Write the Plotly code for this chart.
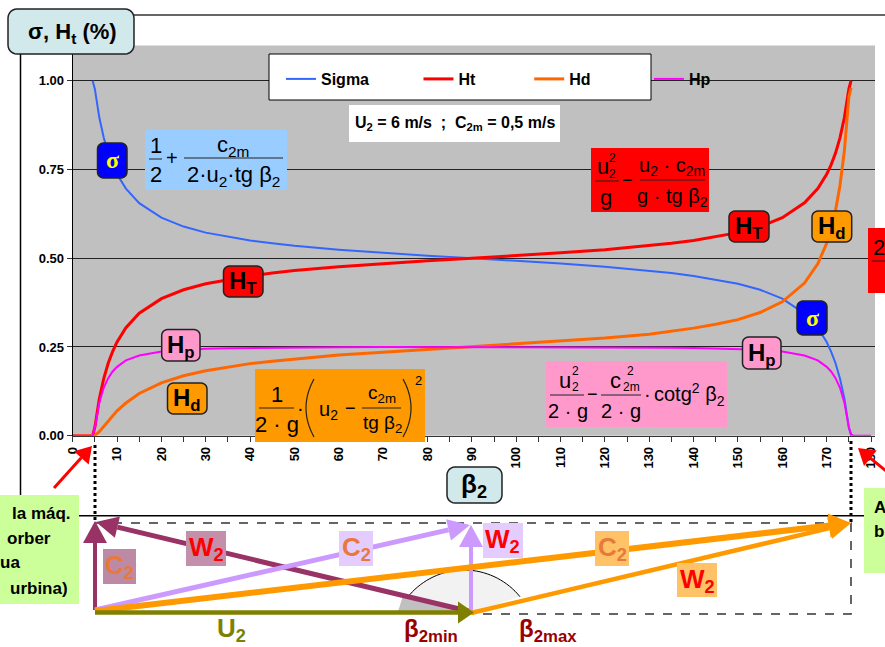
import math
import plotly.graph_objects as go

# ---------- data ----------
beta2 = [0, 2, 4, 4.5, 5, 6, 7, 8, 9, 10, 12, 15, 20, 25, 30, 35, 40, 45, 50, 60, 70, 80, 90,
         100, 110, 120, 130, 135, 140, 145, 150, 155, 160, 165, 168, 170, 171, 172, 173, 174,
         175, 175.5, 176, 178, 180]
sigma = [None, None, None, 1.0, .976, .896, .839, .796, .763, .736, .696, .655, .614, .589, .572, .560, .550, .542, .535, .524, .515, .507, .500,
         .493, .485, .476, .465, .458, .450, .440, .428, .411, .386, .344, .304, .264, .237, .204, .161, .104,
         .024, 0, None, None, None]
ht = [0, 0, 0, 0, .024, .104, .161, .204, .237, .264, .304, .345, .386, .411, .428, .440, .450, .458, .465, .476, .485, .493, .500,
      .507, .515, .524, .535, .542, .550, .560, .572, .589, .614, .656, .696, .736, .763, .796, .839, .896,
      .976, 1.0, None, None, None]
hd = [0, 0, 0, 0, .001, .011, .026, .042, .056, .070, .092, .119, .149, .169, .183, .194, .203, .210, .216, .227, .235, .243, .250,
      .257, .265, .275, .286, .294, .303, .314, .327, .347, .377, .430, .484, .542, .582, .634, .704, .803,
      .953, .98, None, None, None]
hp = [0, 0, 0, 0, .023, .093, .135, .162, .181, .194, .212, .226, .237, .242, .245, .246, .247, .248, .249, .249, .250, .250, .250,
      .250, .250, .249, .249, .248, .247, .246, .245, .242, .237, .226, .212, .194, .181, .162, .135, .093,
      .023, .005, 0, 0, 0]
series_names = ["Sigma", "Ht", "Hd", "Hp"]
x_ticks = list(range(0, 181, 10))
y_ticks = [0, .25, .5, .75, 1]
operating_text = "U<sub>2</sub> = 6 m/s  ;  C<sub>2m</sub> = 0,5 m/s"

W, H = 885, 647
FONT = "Liberation Sans, Arial, sans-serif"
shapes, notes = [], []


def px(x):
    return x / W


def py(y):
    return 1 - y / H


def path(points, close=True):
    s = "M" + " L".join(f"{px(x):.5f},{py(y):.5f}" for x, y in points)
    return s + (" Z" if close else "")


def poly(points, fill=None, line=None, lw=1, dash=None, close=True):
    shapes.append(dict(type="path", xref="paper", yref="paper", path=path(points, close),
                       fillcolor=fill or "rgba(0,0,0,0)",
                       line=dict(color=line or "rgba(0,0,0,0)", width=lw if line else 0, dash=dash or "solid")))


def line(x0, y0, x1, y1, color="black", lw=1, dash=None):
    shapes.append(dict(type="line", xref="paper", yref="paper", x0=px(x0), y0=py(y0), x1=px(x1), y1=py(y1),
                       line=dict(color=color, width=lw, dash=dash or "solid")))


def rect(x0, y0, x1, y1, fill, border=None, lw=1):
    shapes.append(dict(type="rect", xref="paper", yref="paper", x0=px(x0), y0=py(y0), x1=px(x1), y1=py(y1),
                       fillcolor=fill, line=dict(color=border or "rgba(0,0,0,0)", width=lw if border else 0)))


def rrect(x0, y0, x1, y1, fill, r=6, border="#222222", lw=1.5):
    pts = []
    for cx, cy, a0 in [(x1 - r, y0 + r, -90), (x1 - r, y1 - r, 0), (x0 + r, y1 - r, 90), (x0 + r, y0 + r, 180)]:
        for k in range(7):
            a = math.radians(a0 + 15 * k)
            pts.append((cx + r * math.cos(a), cy + r * math.sin(a)))
    poly(pts, fill=fill, line=border, lw=lw)


def text(x, y, s, size=20, color="black", bold=False, anchor="center", family=FONT, vanchor="middle"):
    notes.append(dict(xref="paper", yref="paper", x=px(x), y=py(y), text=f"<b>{s}</b>" if bold else s,
                      showarrow=False, xanchor=anchor, yanchor=vanchor, borderpad=0,
                      font=dict(family=family, size=size, color=color)))


def arrow(a, b, color, lw=5, head=20, half=9):
    dx, dy = b[0] - a[0], b[1] - a[1]
    d = math.hypot(dx, dy)
    ux, uy = dx / d, dy / d
    base = (b[0] - ux * head, b[1] - uy * head)
    line(a[0], a[1], base[0], base[1], color, lw)
    poly([b, (base[0] - uy * half, base[1] + ux * half), (base[0] + uy * half, base[1] - ux * half)], fill=color)


def label(x0, y0, x1, y1, fill, main, sub, tcolor="black", size=24):
    rrect(x0, y0, x1, y1, fill)
    text((x0 + x1) / 2, (y0 + y1) / 2 + 1, f"{main}<sub>{sub}</sub>", size, tcolor, True)


def patch(x0, y0, x1, y1, fill, main, sub, color):
    rect(x0, y0, x1, y1, fill)
    text((x0 + x1) / 2, (y0 + y1) / 2, f"{main}<sub>{sub}</sub>", 26, color, True)


def paren(xe, xm, y0, y1):
    ym = (y0 + y1) / 2
    h = (y1 - y0) / 2
    pts = [(xm + (xe - xm) * (1 - (k / 10) ** 2), ym + h * k / 10) for k in range(-10, 11)]
    poly(pts, line="#222222", lw=1.2, close=False)


# ---------- frame ----------
line(130, 15, 885, 15, "#333333", 1.5)
line(20.5, 50, 20.5, 495, "black", 1.5)
line(75, 515.7, 868, 515.7, "black", 1.5)

# ---------- formula boxes ----------
rect(145, 130, 287, 190, "#99CCFF")
text(156, 145, "1", 22)
line(149, 159, 162, 159, "#222222", 1)
text(156, 175, "2", 22)
text(172, 158, "+", 20)
text(233, 146, "c<sub>2m</sub>", 22)
line(184, 158, 283, 158, "#222222", 1)
text(233, 176, "2·u<sub>2</sub>·tg β<sub>2</sub>", 22)

rect(591, 148, 709, 212, "#FF0000")
text(603, 167, "u", 22)
text(612, 158, "2", 12)
text(612, 174, "2", 12)
line(595, 181, 619, 181, "#222222", 1)
text(606, 198, "g", 22)
text(627, 180, "−", 18)
text(672, 166, "u<sub>2</sub> · c<sub>2m</sub>", 20)
line(640, 180, 705, 180, "#222222", 1)
text(672, 198, "g · tg β<sub>2</sub>", 20)

rect(255, 369, 425, 442, "#FF9900")
text(277, 394, "1", 22)
line(259, 408, 294, 408, "#222222", 1)
text(277, 424, "2 · g", 22)
text(300, 408, "·", 20)
paren(306, 314, 379, 437)
text(328, 410, "u<sub>2</sub>", 20)
text(350, 408, "−", 18)
text(382, 394, "c<sub>2m</sub>", 19)
line(362, 408, 401, 408, "#222222", 1)
text(382, 424, "tg β<sub>2</sub>", 19)
paren(411, 403, 379, 437)
text(418, 381, "2", 13)

rect(546, 361, 727, 427, "#FF99CC")
text(565, 380, "u", 22)
text(575, 371, "2", 12)
text(575, 387, "2", 12)
line(550, 395, 584, 395, "#222222", 1)
text(568, 411, "2 · g", 20)
text(592, 394, "−", 18)
text(615, 380, "c", 22)
text(630, 371, "2", 12)
text(631, 387, "2m", 12)
line(601, 395, 641, 395, "#222222", 1)
text(621, 411, "2 · g", 20)
text(647, 394, "·", 20)
text(689, 394, "cotg<sup>2</sup> β<sub>2</sub>", 20)

# ---------- legend panel and operating point ----------
rect(269, 54, 651, 100, "white", "black", 1)
rect(349, 105, 560, 142, "white")
text(454.5, 124, operating_text, 16, "black", True)

# ---------- curve labels ----------
rrect(97.5, 143, 127, 178, "#0000FF")
text(112, 160, "σ", 24, "#FFFF00", True, family="Liberation Serif, serif")
rrect(797, 301, 827, 335, "#0000FF")
text(812, 318, "σ", 24, "#FFFF00", True, family="Liberation Serif, serif")
label(223.5, 266, 263, 297, "#FF0000", "H", "T")
label(729, 211, 769, 242, "#FF0000", "H", "T")
label(161.7, 329.5, 200, 361, "#FF99CC", "H", "p")
label(742.5, 337, 781, 369, "#FF99CC", "H", "p")
label(167.5, 383, 207, 414, "#FF9900", "H", "d")
label(812, 211, 851.7, 242, "#FF9900", "H", "d")

# ---------- side boxes ----------
rect(868, 228, 890, 293, "#FF0000")
text(879, 247, "2", 22)
line(872, 261, 885, 261, "#222222", 1)
rect(-5, 495, 79, 604, "#CCFF99")
for yy, s, xe in [(513, "la máq.", 72), (538, "orber", 52), (562, "ua", 21), (588, "urbina)", 69)]:
    text(xe, yy, s, 17, "black", True, "right")
rect(864, 488, 890, 573, "#CCFF99")
text(880, 507, "A", 17, "black", True)
text(879, 531, "b", 17, "black", True)

# ---------- titles ----------
rrect(8, 9, 134, 54, "#D2E9EC", r=9)
text(72, 33, "σ, H<sub>t</sub> (%)", 22, "black", True)
rrect(447, 467, 502, 503, "#D2E9EC", r=8)
text(474, 486, "β<sub>2</sub>", 26, "black", True)

# ---------- velocity triangles ----------
line(95, 445, 95, 522, "black", 3, "dot")
line(851, 441, 851, 522, "black", 3, "dot")
poly([(95, 523), (851, 523), (851, 614), (472, 614)], line="#333333", lw=1.5, dash="dash", close=False)

cx, cy, R = 464, 642, 72
a0 = math.acos((398 - cx) / R)
a1 = math.acos((520 - cx) / R)
arc = [(cx + R * math.cos(a0 + (a1 - a0) * k / 40), cy - R * math.sin(a0 + (a1 - a0) * k / 40)) for k in range(41)]
poly([(398, 612)] + arc + [(472, 612)], fill="#F2F2F2")
poly([(398, 612)] + arc, line="black", lw=1, close=False)
poly([(398, 612), (398.5, 610), (403, 595.5), (472, 612)], fill="#C0C0C0")

arrow((95, 610), (95, 521), "#993366", 4, 22, 12)
arrow((472, 612), (96, 522), "#993366", 5, 22, 11)
arrow((95, 610), (470, 525), "#CC99FF", 5, 22, 11)
arrow((471, 612), (471, 525), "#CC99FF", 4, 22, 12)
arrow((95, 611), (851, 523), "#FF9900", 6, 22, 12)
arrow((471, 613), (851, 523), "#FF9900", 4.5, 22, 11)
arrow((95, 612.5), (474, 612.5), "#808000", 4.5, 16, 11)

patch(103, 549, 136, 584, "#BC8AA4", "C", "2", "#E8793A")
patch(186, 531, 226, 566, "#C48FAB", "W", "2", "#FF0000")
patch(339, 531, 373, 566, "#E5CCFF", "C", "2", "#E8793A")
patch(483, 523, 523, 558, "#E5CCFF", "W", "2", "#FF0000")
patch(595, 531, 629, 566, "#FFC266", "C", "2", "#E8793A")
patch(677, 563, 717, 597, "#FFC266", "W", "2", "#FF0000")

text(231, 647, "U<sub>2</sub>", 26, "#808000", True, vanchor="bottom")
text(431, 647, "β<sub>2min</sub>", 24, "#990000", True, vanchor="bottom")
text(548, 647, "β<sub>2max</sub>", 24, "#990000", True, vanchor="bottom")

# ---------- red pointers ----------
arrow((54, 488), (92, 446), "#FF0000", 3, 16, 10)
arrow((886, 471), (858, 448), "#FF0000", 3, 16, 10)

# ---------- curves ----------
fig = go.Figure()
styles = [("#3366FF", 2), ("#FF0000", 3), ("#FF6600", 3), ("#FF00FF", 2)]
for name, vals, (col, w), pad in zip(series_names, [sigma, ht, hd, hp], styles, [10, 11, 12, 2]):
    fig.add_trace(go.Scatter(x=beta2, y=vals, mode="lines", name=name + "\u00a0" * pad,
                             line=dict(color=col, width=w), hoverinfo="skip", cliponaxis=True))

fig.update_layout(
    width=W, height=H, margin=dict(l=0, r=0, t=0, b=0, autoexpand=False), autosize=False,
    paper_bgcolor="white", plot_bgcolor="#C0C0C0",
    font=dict(family=FONT, size=14, color="black"),
    shapes=shapes, annotations=notes,
    legend=dict(orientation="h", x=px(281), y=py(79), xanchor="left", yanchor="middle",
                bgcolor="rgba(0,0,0,0)", borderwidth=0, itemwidth=30,
                font=dict(family=FONT, size=16, color="black", weight="bold")),
    xaxis=dict(domain=[px(72.7), px(875)], range=[0, 180.9], tickvals=x_ticks, ticks="outside", ticklen=5,
               tickcolor="#333333", tickangle=-90, showgrid=False, zeroline=False, showline=True,
               linecolor="#333333", linewidth=1,
               tickfont=dict(family=FONT, size=13, weight="bold"),
               minor=dict(dtick=5, ticks="outside", ticklen=5, tickcolor="#333333", showgrid=False)),
    yaxis=dict(domain=[py(435.7), py(45.5)], range=[0, 1.099], tickvals=y_ticks, tickformat=".2f", ticks="outside",
               ticklen=5, tickcolor="#333333", showgrid=True, gridcolor="#222222", gridwidth=1, zeroline=False,
               showline=True, linecolor="black", linewidth=1,
               tickfont=dict(family=FONT, size=13, weight="bold")),
)
fig.write_html("out.html", config={"displayModeBar": False},
               post_script="document.body.style.margin='0';document.documentElement.style.overflow='hidden';")
